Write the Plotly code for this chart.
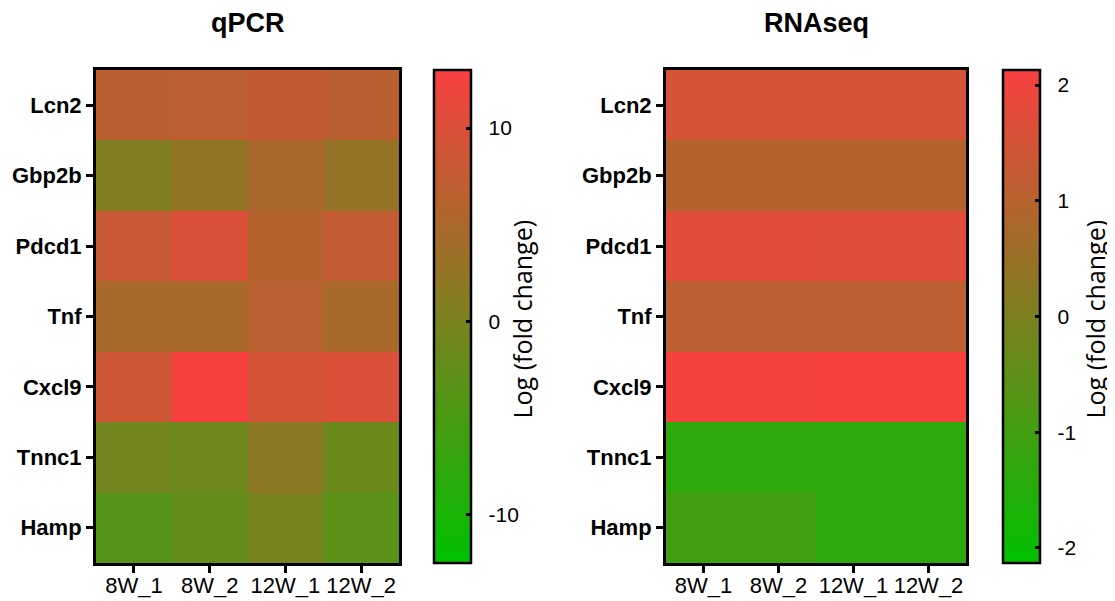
import plotly.graph_objects as go

genes = ["Lcn2", "Gbp2b", "Pdcd1", "Tnf", "Cxcl9", "Tnnc1", "Hamp"]
samples = ["8W_1", "8W_2", "12W_1", "12W_2"]

qpcr_values = [
    [6.6, 7.1, 7.6, 6.6],
    [0.8, 2.4, 5.0, 2.9],
    [8.1, 9.9, 6.0, 7.5],
    [4.8, 4.8, 6.5, 4.8],
    [8.6, 13.0, 9.3, 10.1],
    [-0.7, -1.3, 1.9, -1.7],
    [-3.8, -2.2, -0.2, -3.4],
]
rnaseq_values = [
    [1.51, 1.51, 1.51, 1.51],
    [0.96, 0.96, 0.96, 0.96],
    [1.73, 1.73, 1.70, 1.70],
    [1.10, 1.10, 1.10, 1.10],
    [2.08, 2.08, 2.13, 2.13],
    [-1.32, -1.32, -1.32, -1.32],
    [-1.01, -1.01, -1.32, -1.32],
]
qpcr_ticks = [-10, 0, 10]
rnaseq_ticks = [-2, -1, 0, 1, 2]
qpcr_range = (-12.5, 13.0)
rnaseq_range = (-2.13, 2.13)
panel_titles = ["qPCR", "RNAseq"]
cb_title = "Log (fold change)"

W, H = 1115, 601
colorscale = [[0.0, "rgb(0,192,0)"], [1.0, "rgb(248,64,64)"]]
FONT = "Liberation Sans, Arial, sans-serif"
CB_TITLE_FONT = dict(family="Open Sans, sans-serif", size=25, color="black")

TOP, BOTTOM = 62, 555

def px_x(v):
    return v / W

def px_y(v):
    return 1 - v / H

fig = go.Figure()

def colorbar(x_left, ticks):
    return dict(
        x=px_x(x_left), xanchor="left", xpad=0, ypad=0,
        y=px_y((TOP + BOTTOM) / 2), yanchor="middle",
        len=(BOTTOM - TOP) / H, lenmode="fraction",
        thickness=37, thicknessmode="pixels",
        outlinewidth=2.5, outlinecolor="black",
        tickmode="array", tickvals=ticks,
        ticktext=["\u00a0\u00a0" + str(t) for t in ticks],
        ticks="inside", ticklen=6, tickwidth=3, tickcolor="black",
        tickfont=dict(family=FONT, size=21, color="black"),
    )

fig.add_trace(go.Heatmap(
    z=qpcr_values, x=samples, y=genes, colorscale=colorscale,
    zmin=qpcr_range[0], zmax=qpcr_range[1], xaxis="x", yaxis="y",
    colorbar=colorbar(426, qpcr_ticks),
))
fig.add_trace(go.Heatmap(
    z=rnaseq_values, x=samples, y=genes, colorscale=colorscale,
    zmin=rnaseq_range[0], zmax=rnaseq_range[1], xaxis="x2", yaxis="y2",
    colorbar=colorbar(995, rnaseq_ticks),
))

ydom = [px_y(BOTTOM), px_y(TOP)]
common_x = dict(showline=True, linewidth=3, linecolor="black", mirror=True,
                ticks="outside", ticklen=7, tickwidth=3, tickcolor="black",
                ticklabelstandoff=-6,
                tickfont=dict(family=FONT, size=22, color="black"),
                showgrid=False, zeroline=False)
common_y = dict(showline=True, linewidth=3, linecolor="black", mirror=True,
                ticks="outside", ticklen=7, tickwidth=3, tickcolor="black",
                tickfont=dict(family=FONT, size=22, color="black", weight="bold"),
                showgrid=False, zeroline=False, autorange="reversed")

annotations = []
for xr, title in zip(["x domain", "x2 domain"], panel_titles):
    annotations.append(dict(
        text=title, xref=xr, yref="paper", x=0.5, y=px_y(15),
        showarrow=False, yanchor="middle",
        font=dict(family=FONT, size=27, color="black", weight="bold")))
for xc in (513, 1086):
    annotations.append(dict(
        text=cb_title, xref="paper", yref="paper", x=px_x(xc),
        y=px_y((TOP + BOTTOM) / 2 + 3),
        showarrow=False, textangle=-90, xanchor="center", yanchor="middle",
        font=CB_TITLE_FONT))

fig.update_layout(
    width=W, height=H, margin=dict(l=0, r=0, t=0, b=0, autoexpand=False),
    paper_bgcolor="white", plot_bgcolor="white",
    xaxis=dict(domain=[px_x(88), px_x(391)], anchor="y", **common_x),
    yaxis=dict(domain=ydom, anchor="x", **common_y),
    xaxis2=dict(domain=[px_x(658), px_x(958)], anchor="y2", **common_x),
    yaxis2=dict(domain=ydom, anchor="x2", **common_y),
    annotations=annotations,
)

fig.write_html("out.html")
